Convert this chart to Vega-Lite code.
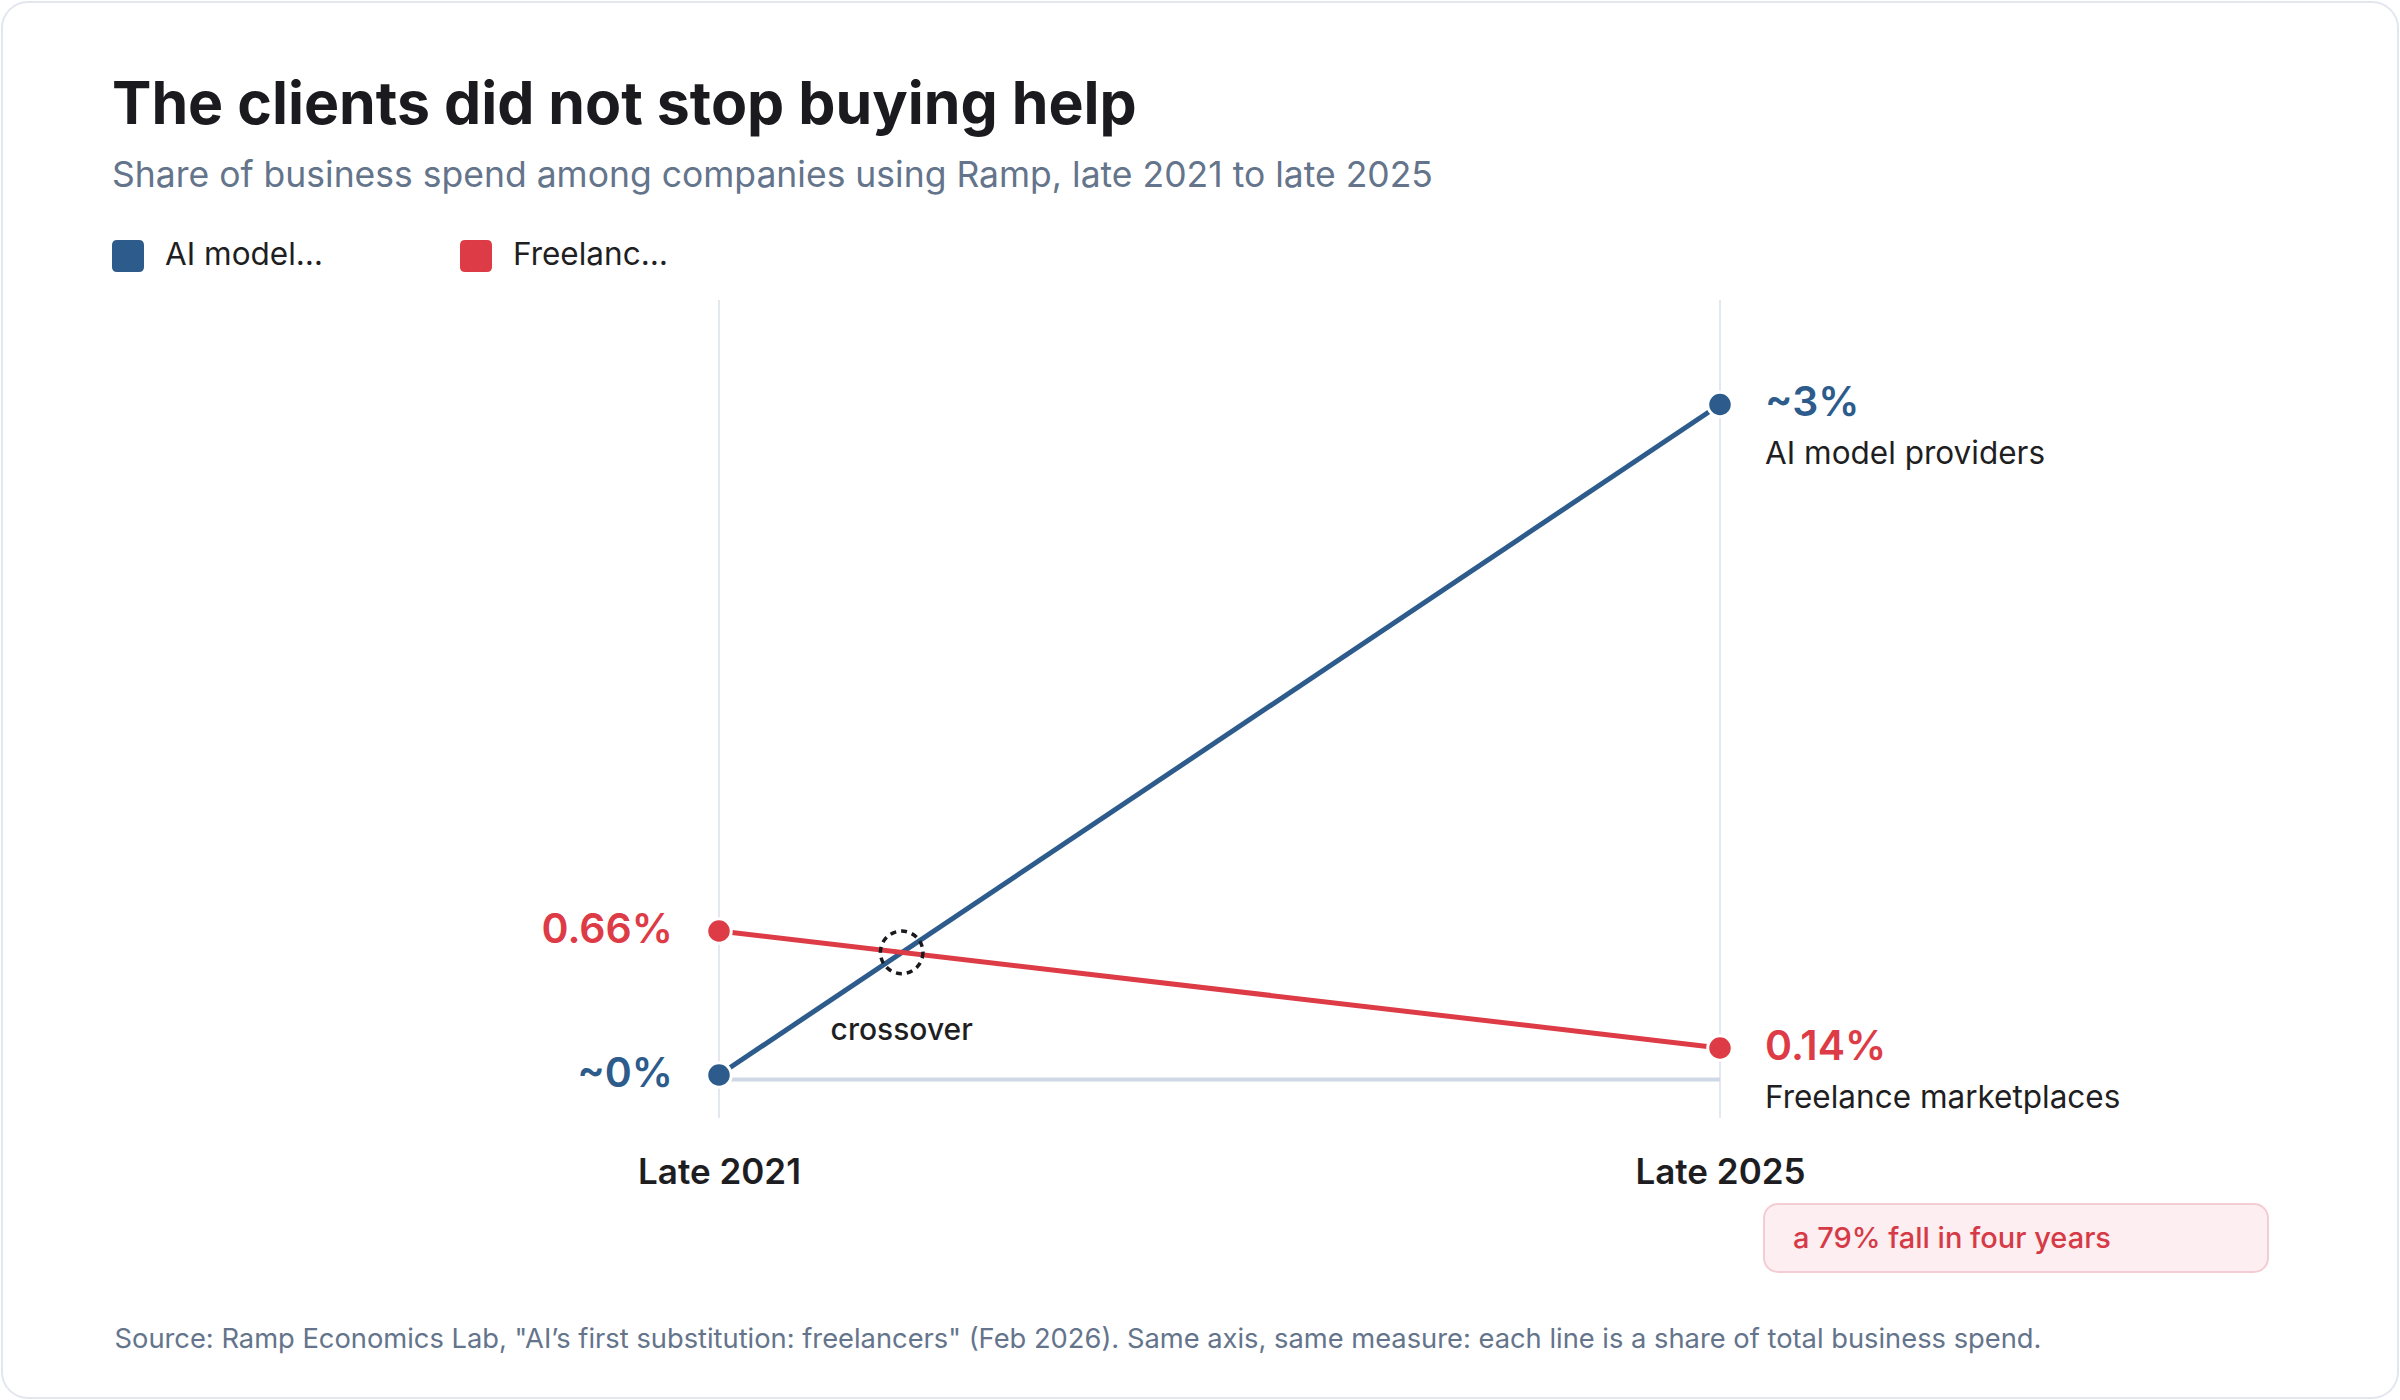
{
  "$schema": "https://vega.github.io/schema/vega-lite/v6.json",
  "width": 2400,
  "height": 1400,
  "autosize": {"type": "fit", "contains": "padding"},
  "padding": 2,
  "background": "white",
  "title": {
    "text": "The clients did not stop buying help",
    "subtitle": "Share of business spend among companies using Ramp, late 2021 to late 2025",
    "anchor": "start",
    "frame": "group",
    "orient": "top",
    "offset": -192,
    "dx": 110,
    "font": "Inter",
    "fontSize": 59,
    "fontWeight": 700,
    "color": "#1b1b1f",
    "subtitleFont": "Inter",
    "subtitleFontSize": 35.5,
    "subtitleFontWeight": 400,
    "subtitleColor": "#64748b",
    "subtitlePadding": 22.5
  },
  "layer": [
    {
      "data": {"values": [{"period": 2021}, {"period": 2025}]},
      "mark": {"type": "rule", "color": "#e3e8ef", "strokeWidth": 2},
      "encoding": {
        "x": {"field": "period", "type": "quantitative"},
        "y": {"datum": -0.171, "type": "quantitative"},
        "y2": {"datum": 3.465}
      }
    },
    {
      "data": {"values": [{"period": 2021, "share": 0}, {"period": 2025, "share": 0}]},
      "mark": {"type": "line", "color": "#cfd9e6", "strokeWidth": 4},
      "encoding": {
        "x": {"field": "period", "type": "quantitative"},
        "y": {"field": "share", "type": "quantitative"}
      }
    },
    {
      "data": {
        "values": [
          {"series": "AI model providers", "period": 2021, "share": 0.02},
          {"series": "AI model providers", "period": 2025, "share": 3.0},
          {"series": "Freelance marketplaces", "period": 2021, "share": 0.66},
          {"series": "Freelance marketplaces", "period": 2025, "share": 0.14}
        ]
      },
      "layer": [
        {
          "mark": {"type": "line", "strokeWidth": 5},
          "encoding": {
            "x": {
              "field": "period",
              "type": "quantitative",
              "scale": {"domain": [2018.13487, 2027.7093], "nice": false, "zero": false},
              "title": "Source: Ramp Economics Lab, \"AI’s first substitution: freelancers\" (Feb 2026). Same axis, same measure: each line is a share of total business spend.",
              "axis": {
                "values": [2021, 2025],
                "labelExpr": "'Late ' + datum.value",
                "offset": -280,
                "domain": false,
                "ticks": false,
                "tickSize": 0,
                "grid": false,
                "labelPadding": 65,
                "labelBaseline": "alphabetic",
                "labelFont": "Inter",
                "labelFontSize": 35,
                "labelFontWeight": 600,
                "labelColor": "#1e1e22",
                "titleX": 112,
                "titleY": 229,
                "titleAlign": "left",
                "titleBaseline": "alphabetic",
                "titleFont": "Inter",
                "titleFontSize": 27.3,
                "titleFontWeight": 400,
                "titleColor": "#64748b"
              }
            },
            "y": {
              "field": "share",
              "type": "quantitative",
              "scale": {"domain": [-1.41556, 4.78889], "nice": false, "zero": false},
              "axis": null
            },
            "stroke": {
              "field": "series",
              "type": "nominal",
              "scale": {"range": ["#2c5b8c", "#dd3b46"]},
              "legend": null
            }
          }
        },
        {
          "mark": {"type": "point", "filled": true, "opacity": 1, "size": 600, "stroke": "white", "strokeWidth": 3},
          "encoding": {
            "x": {"field": "period", "type": "quantitative"},
            "y": {"field": "share", "type": "quantitative"},
            "color": {
              "field": "series",
              "type": "nominal",
              "scale": {"domain": ["AI model providers", "Freelance marketplaces"], "range": ["#2c5b8c", "#dd3b46"]},
              "legend": {
                "orient": "none",
                "legendX": 110,
                "legendY": 238,
                "direction": "horizontal",
                "title": null,
                "padding": 0,
                "symbolType": "M -0.68,-1 L 0.68,-1 Q 1,-1 1,-0.68 L 1,0.68 Q 1,1 0.68,1 L -0.68,1 Q -1,1 -1,0.68 L -1,-0.68 Q -1,-1 -0.68,-1 Z",
                "symbolSize": 1024,
                "symbolStrokeWidth": 0,
                "symbolOpacity": 1,
                "labelFont": "Inter",
                "labelFontSize": 31.5,
                "labelColor": "#1f1f23",
                "labelOffset": 21,
                "columnPadding": 136
              }
            }
          }
        }
      ]
    },
    {
      "data": {
        "values": [
          {"series": "AI model providers", "period": 2021, "share": 0.02, "label": "~0%"},
          {"series": "Freelance marketplaces", "period": 2021, "share": 0.66, "label": "0.66%"}
        ]
      },
      "mark": {"type": "text", "align": "right", "baseline": "alphabetic", "dx": -46, "dy": 12, "font": "Inter", "fontSize": 41, "fontWeight": 600},
      "encoding": {
        "x": {"field": "period", "type": "quantitative"},
        "y": {"field": "share", "type": "quantitative"},
        "text": {"field": "label", "type": "nominal"},
        "fill": {
          "field": "series",
          "type": "nominal",
          "scale": {"range": ["#2c5b8c", "#dd3b46"]},
          "legend": null
        }
      }
    },
    {
      "data": {
        "values": [
          {"series": "AI model providers", "period": 2025, "share": 3.0, "label": "~3%"},
          {"series": "Freelance marketplaces", "period": 2025, "share": 0.14, "label": "0.14%"}
        ]
      },
      "layer": [
        {
          "mark": {"type": "text", "align": "left", "baseline": "alphabetic", "dx": 45, "dy": 12, "font": "Inter", "fontSize": 41, "fontWeight": 600},
          "encoding": {
            "x": {"field": "period", "type": "quantitative"},
            "y": {"field": "share", "type": "quantitative"},
            "text": {"field": "label", "type": "nominal"},
            "fill": {"field": "series", "type": "nominal", "legend": null}
          }
        },
        {
          "mark": {"type": "text", "align": "left", "baseline": "alphabetic", "dx": 45, "dy": 60, "font": "Inter", "fontSize": 31.5, "fontWeight": 400, "color": "#1f1f23"},
          "encoding": {
            "x": {"field": "period", "type": "quantitative"},
            "y": {"field": "share", "type": "quantitative"},
            "text": {"field": "series", "type": "nominal"}
          }
        }
      ]
    },
    {
      "data": {"values": [{"period": 2021.73, "share": 0.565, "label": "crossover"}]},
      "layer": [
        {
          "mark": {"type": "point", "shape": "circle", "filled": false, "size": 1810, "stroke": "#1a1a1e", "strokeWidth": 3.5, "strokeDash": [6, 5], "opacity": 1},
          "encoding": {
            "x": {"field": "period", "type": "quantitative"},
            "y": {"field": "share", "type": "quantitative"}
          }
        },
        {
          "mark": {"type": "text", "align": "center", "baseline": "alphabetic", "dy": 88, "font": "Inter", "fontSize": 30, "fontWeight": 500, "color": "#1f1f23"},
          "encoding": {
            "x": {"field": "period", "type": "quantitative"},
            "y": {"field": "share", "type": "quantitative"},
            "text": {"field": "label", "type": "nominal"}
          }
        }
      ]
    },
    {
      "data": {"values": [{"period": 2025, "share": 0.14, "label": "a 79% fall in four years"}]},
      "layer": [
        {
          "mark": {"type": "rect", "xOffset": 44, "x2Offset": 548, "yOffset": 156, "y2Offset": 224, "fill": "#fdeef1", "stroke": "#f4cdd4", "strokeWidth": 2, "cornerRadius": 14},
          "encoding": {
            "x": {"field": "period", "type": "quantitative"},
            "x2": {"field": "period"},
            "y": {"field": "share", "type": "quantitative"},
            "y2": {"field": "share"}
          }
        },
        {
          "mark": {"type": "text", "align": "left", "baseline": "alphabetic", "dx": 73, "dy": 200, "font": "Inter", "fontSize": 29, "fontWeight": 500, "color": "#d63a46"},
          "encoding": {
            "x": {"field": "period", "type": "quantitative"},
            "y": {"field": "share", "type": "quantitative"},
            "text": {"field": "label", "type": "nominal"}
          }
        }
      ]
    }
  ],
  "config": {
    "font": "Inter",
    "view": {"fill": "white", "stroke": "#e2e7ee", "strokeWidth": 2, "cornerRadius": 26}
  }
}
